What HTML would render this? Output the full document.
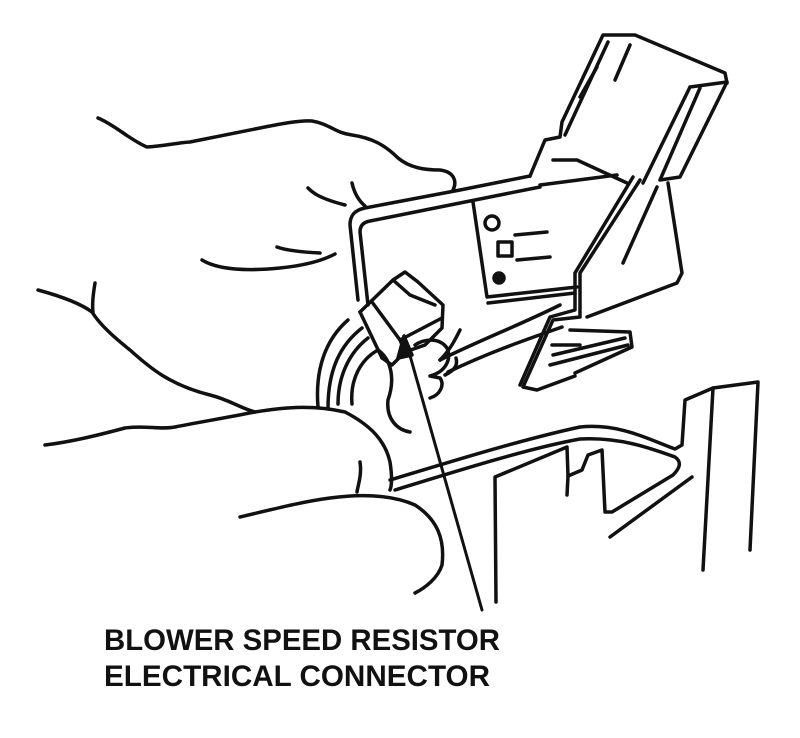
<!DOCTYPE html>
<html><head><meta charset="utf-8"><style>
html,body{margin:0;padding:0;background:#fff;}
svg{display:block}
text{font-family:"Liberation Sans",sans-serif;font-weight:bold;fill:#111}
</style></head><body>
<svg width="800" height="738" viewBox="0 0 800 738">
<g fill="none" stroke="#111" stroke-width="3.5" stroke-linecap="round" stroke-linejoin="round">
<g>
<path d="M98,118 C115,125 130,140 147,147 C165,146 175,143 190,142 C215,137 240,132 260,128 C280,124 300,120 312,121 C330,124 335,133 352,135 C372,138 385,145 398,158 C410,168 425,170 440,170 C455,172 457,182 453,190"/>
<path d="M308,188 C312,192 318,198 345,205 M352,183 C354,192 358,200 365,206"/>
<path d="M202,260 C215,268 240,272 280,268 C300,266 320,262 335,254 M277,247 C285,250 300,252 320,253"/>
</g>
<g>
<path d="M38,290 C60,296 80,303 92,312 C100,325 115,338 130,350 C150,368 170,385 210,395 C230,400 240,408 255,412"/>
<path d="M95,283 C93,295 92,305 93,312"/>
<path d="M45,445 C70,442 95,436 125,428 C145,425 160,430 175,427 C200,422 225,418 255,412 C280,408 310,404 345,412 C370,425 385,440 390,462 C392,475 392,485 390,490"/>
<path d="M360,462 C362,475 358,485 357,492"/>
<path d="M240,517 C270,510 300,502 330,498 C360,494 390,494 415,505 C438,520 445,540 442,565 C438,578 425,588 415,593"/>
<path d="M318,407 C315,370 325,340 348,320 M328,408 C328,370 340,345 362,328 M338,404 C338,375 350,352 368,338"/>
<path d="M352,404 C350,380 360,360 378,350 C392,360 395,380 388,400 C386,420 398,430 410,432"/>
<path d="M415,345 C425,338 440,338 447,348 C452,360 445,372 430,376 L440,378 C445,385 440,395 430,398"/>
<path d="M440,360 C450,350 455,340 460,330 M445,375 C455,370 458,365 456,358"/>
</g>
<g>
<path d="M358,300 L350,225 C350,215 355,210 365,208 L460,190 L530,176"/>
<path d="M368,305 L360,232 C360,225 364,222 370,221 L460,203 L540,187"/>
<path d="M473,202 L487,297 L577,287 M488,303 L575,293"/>
<path d="M440,360 C480,340 520,325 560,305 M448,372 C490,352 525,340 562,327"/>
<circle cx="492" cy="223" r="7"/>
<rect x="498" y="242" width="14" height="14"/>
<path d="M515,235 L547,232 M517,260 L550,257"/>
<circle cx="499" cy="278" r="5" fill="#111"/>
</g>
<g>
<path d="M530,176 L545,140 L560,137 L562,122 L603,35 L635,35 L725,73 L727,83"/>
<path d="M608,42 L565,135"/>
<path d="M580,97 L597,67 M615,80 L630,45"/>
<path d="M690,87 L643,183 M700,88 L660,180 L680,177 L727,82 L690,87"/>
<path d="M668,183 L682,273 L677,283 L587,317"/>
<path d="M640,180 L580,273 L580,317 L553,320 L523,387 L537,390 L575,376"/>
<path d="M633,177 L575,273 L575,310 L550,317 L520,385"/>
<path d="M657,187 L623,263"/>
<path d="M553,160 L577,160 L627,183 M540,185 L617,175"/>
<path d="M570,330 L630,332 L632,347 L575,373 M552,345 L580,345 M553,355 L625,338 M550,365 L628,345"/>
</g>
<g>
<path d="M360,312 L393,280 L405,272 L418,282 L443,305 L442,328 L425,345 L405,352 L392,365 L382,358"/>
<path d="M360,312 L382,358 M372,302 L400,340 L442,318 M393,280 L410,295 L435,305"/>
<path d="M400,340 L405,352"/>
</g>
<g>
<path d="M390,480 C450,462 520,440 580,427 C620,423 650,440 675,449 L682,445 L685,400 L713,388 L758,382 L750,550"/>
<path d="M395,490 C460,470 530,448 580,439 C620,437 650,448 675,457 C682,462 680,468 673,475 L612,512 L605,512 L602,450 L588,455 L582,470 L568,476 L567,447 L495,477 L496,602"/>
<path d="M568,476 L567,495"/>
<path d="M610,537 L692,477"/>
<path d="M713,388 L703,570"/>
</g>
<g>
<path d="M407,345 L482,610" stroke-width="3"/>
<path d="M404,336 L398,358 L412,355 Z" fill="#111"/>
</g>
</g>
<text x="104" y="650" font-size="30" textLength="396" lengthAdjust="spacingAndGlyphs">BLOWER SPEED RESISTOR</text>
<text x="104" y="686" font-size="30" textLength="386" lengthAdjust="spacingAndGlyphs">ELECTRICAL CONNECTOR</text>
</svg>
</body></html>
